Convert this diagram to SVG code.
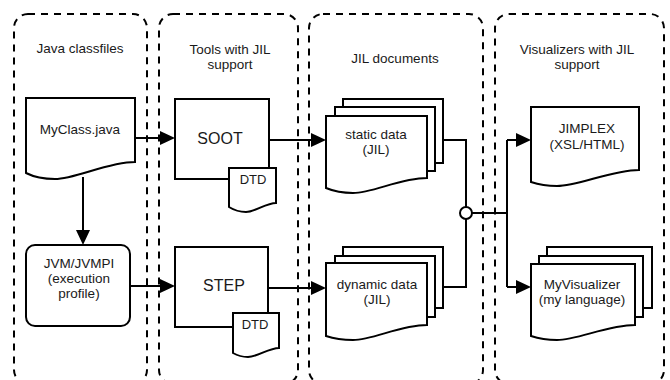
<svg xmlns="http://www.w3.org/2000/svg" width="670" height="380" viewBox="0 0 670 380">
<style>
.cont{fill:none;stroke:#000;stroke-width:2;stroke-dasharray:7 6}
.node{fill:#fff;stroke:#000;stroke-width:2}
.conn{fill:none;stroke:#000;stroke-width:2}
text{font-family:"Liberation Sans",Arial,sans-serif;font-size:13.5px;fill:#1a1a1a;text-anchor:middle}
.big{font-size:16px}
.sm{font-size:13px}
</style>
<defs>
<marker id="ah" markerWidth="15" markerHeight="14" refX="5" refY="7" orient="auto" markerUnits="userSpaceOnUse">
<path d="M0,0 L15,7 L0,14 Z" fill="#000"/>
</marker>
</defs>
<g id="containers">
<g id="c-java"><rect class="cont" x="14" y="14" width="133" height="370" rx="14"/><text x="80" y="53">Java classfiles</text></g>
<g id="c-tools"><rect class="cont" x="159" y="14" width="139" height="370" rx="14"/><text x="230" y="54">Tools with JIL</text><text x="230" y="69">support</text></g>
<g id="c-docs"><rect class="cont" x="309" y="14" width="174" height="370" rx="14"/><text x="395" y="63">JIL documents</text></g>
<g id="c-vis"><rect class="cont" x="495" y="14" width="169" height="370" rx="14"/><text x="577" y="54">Visualizers with JIL</text><text x="577" y="69">support</text></g>
</g>
<g id="connectors">
<path class="conn" d="M135,138 H165" marker-end="url(#ah)"/>
<path class="conn" d="M83,177 V235" marker-end="url(#ah)"/>
<path class="conn" d="M269,140 H316" marker-end="url(#ah)"/>
<path class="conn" d="M130,286 H165" marker-end="url(#ah)"/>
<path class="conn" d="M268,288 H316" marker-end="url(#ah)"/>
<path class="conn" d="M443,140 H466 V207"/>
<path class="conn" d="M443,287 H466 V219"/>
<path class="conn" d="M472,213 H507"/>
<path class="conn" d="M507,140 V287"/>
<path class="conn" d="M507,140 H521" marker-end="url(#ah)"/>
<path class="conn" d="M507,287 H521" marker-end="url(#ah)"/>
<circle class="node" cx="466" cy="213" r="6"/>
</g>
<g id="myclass"><path class="node" d="M26,98 H135 V162 C108,162 75,179 55,179 Q38,179 26,173 Z"/><text x="80" y="134">MyClass.java</text></g>
<g id="jvm"><rect class="node" x="26" y="245" width="104" height="81" rx="9"/><text x="79" y="268">JVM/JVMPI</text><text x="79" y="283">(execution</text><text x="79" y="298">profile)</text></g>
<g id="soot"><rect class="node" x="175" y="99" width="94" height="80"/><text class="big" x="220" y="144">SOOT</text></g>
<g id="soot-dtd"><path class="node" d="M229,168 H276 V203 C266,203 255,212 246,212 Q237,212 229,207 Z"/><text class="sm" x="253" y="184">DTD</text></g>
<g id="step"><rect class="node" x="175" y="247" width="93" height="80"/><text class="big" x="224" y="291">STEP</text></g>
<g id="step-dtd"><path class="node" d="M233,313 H279 V348 C269,348 257,357 248,357 Q240,357 233,353 Z"/><text class="sm" x="255" y="329">DTD</text></g>
<g id="static">
<rect class="node" x="343" y="99" width="100" height="64"/>
<rect class="node" x="335" y="107" width="100" height="64"/>
<path class="node" d="M326,116 H427 V178 C400,178 373,193 353,193 Q338,193 326,188 Z"/>
<text x="376" y="139">static data</text><text x="376" y="154">(JIL)</text>
</g>
<g id="dynamic">
<rect class="node" x="343" y="247" width="100" height="61"/>
<rect class="node" x="335" y="256" width="100" height="61"/>
<path class="node" d="M326,263 H427 V325 C400,325 373,340 353,340 Q338,340 326,336 Z"/>
<text x="377" y="289">dynamic data</text><text x="377" y="304">(JIL)</text>
</g>
<g id="jimplex"><path class="node" d="M531,107 H639 V170 C612,170 578,186 557,186 Q543,186 531,182 Z"/><text x="587" y="133">JIMPLEX</text><text x="587" y="149">(XSL/HTML)</text></g>
<g id="myvis">
<rect class="node" x="547" y="247" width="105" height="61"/>
<rect class="node" x="539" y="256" width="104" height="61"/>
<path class="node" d="M531,264 H635 V325 C608,325 577,340 557,340 Q543,340 531,336 Z"/>
<text x="582" y="289">MyVisualizer</text><text x="582" y="304">(my language)</text>
</g>
</svg>
